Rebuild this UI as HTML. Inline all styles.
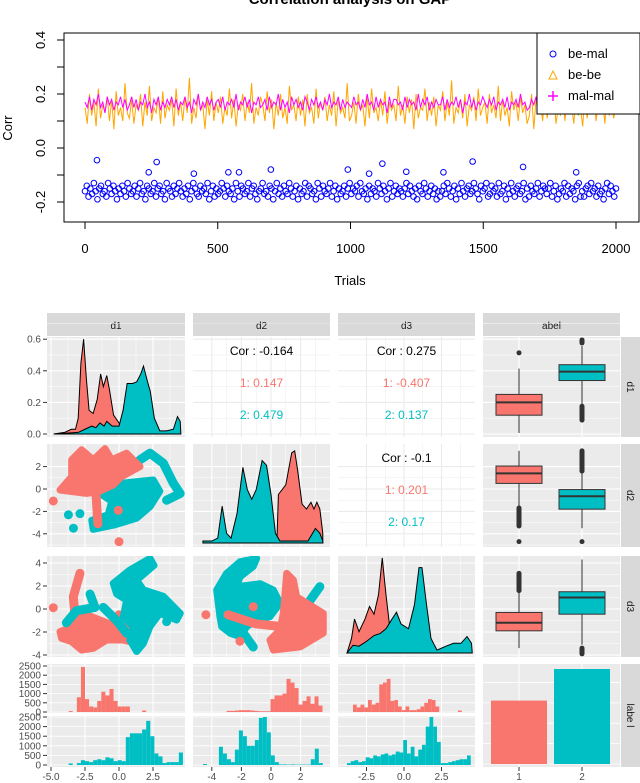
<!DOCTYPE html>
<html><head><meta charset="utf-8"><style>
html,body{margin:0;padding:0;background:#fff;}
svg{display:block;font-family:"Liberation Sans",sans-serif;}
</style></head><body>
<svg id="fig" width="640" height="783" viewBox="0 0 640 783" xmlns="http://www.w3.org/2000/svg"></svg>
<script>
// ---------- TOP CHART DATA ----------
const topXTicks=[0,500,1000,1500,2000];
const topYTicks=[-0.2,0.0,0.2,0.4];
const beBe=[.15,.09,.20,.12,.17,.08,.22,.11,.16,.13,.19,.10,.18,.07,.21,.12,.15,.10,.24,.13,
.11,.18,.09,.16,.14,.20,.08,.17,.12,.23,.10,.15,.13,.19,.09,.21,.11,.16,.14,.18,
.08,.22,.12,.17,.10,.19,.13,.26,.09,.15,.11,.20,.14,.16,.07,.18,.12,.21,.10,.17,
.13,.19,.09,.15,.12,.22,.11,.18,.08,.16,.14,.20,.10,.17,.13,.24,.09,.15,.12,.19,
.16,.10,.21,.13,.18,.07,.17,.12,.20,.11,.15,.09,.23,.14,.16,.10,.19,.12,.18,.08,
.20,.13,.15,.09,.22,.11,.17,.14,.19,.10,.16,.12,.21,.08,.18,.13,.15,.11,.24,.10,
.12,.17,.09,.20,.14,.16,.08,.19,.11,.22,.13,.15,.10,.18,.12,.21,.09,.17,.14,.16,
.10,.23,.12,.16,.09,.19,.13,.18,.07,.20,.11,.15,.14,.22,.10,.17,.12,.19,.08,.16,
.14,.21,.10,.17,.12,.25,.09,.15,.13,.18,.11,.20,.08,.16,.14,.19,.10,.22,.12,.15,
.17,.09,.20,.13,.16,.11,.23,.10,.18,.12,.15,.08,.21,.14,.17,.10,.19,.13,.16,.09,
.12,.20,.07,.18,.13,.16,.10,.22,.11,.17,.14,.19,.09,.15,.12,.21,.10,.18,.13,.16,
.09,.19,.12,.15,.08,.20,.11,.17,.13,.22,.10,.16,.14,.18,.09,.21,.12,.15,.11,.17];
const malMal=[.17,.15,.19,.14,.18,.16,.20,.15,.17,.13,.19,.16,.18,.14,.17,.16,.19,.15,.18,.14,
.16,.19,.15,.18,.14,.17,.16,.20,.15,.17,.13,.18,.16,.19,.14,.17,.15,.18,.16,.19,
.15,.18,.14,.17,.16,.19,.15,.17,.13,.18,.16,.20,.14,.17,.15,.19,.16,.18,.14,.17,
.18,.15,.19,.14,.17,.16,.18,.15,.20,.14,.17,.16,.19,.15,.18,.13,.17,.16,.19,.15,
.16,.18,.14,.19,.15,.17,.16,.20,.14,.18,.15,.17,.13,.19,.16,.18,.15,.17,.14,.19,
.17,.14,.18,.16,.19,.15,.17,.14,.18,.16,.20,.15,.17,.16,.19,.14,.18,.15,.17,.16,
.15,.19,.16,.17,.14,.18,.15,.20,.16,.17,.14,.19,.15,.18,.16,.17,.13,.19,.15,.18,
.18,.16,.17,.14,.19,.15,.18,.16,.17,.14,.20,.15,.18,.16,.19,.14,.17,.15,.18,.16,
.16,.19,.14,.18,.15,.17,.16,.19,.15,.18,.13,.17,.16,.20,.15,.18,.14,.17,.16,.19,
.17,.15,.18,.16,.19,.14,.17,.16,.18,.15,.19,.14,.17,.16,.18,.15,.20,.16,.17,.14,
.15,.18,.16,.19,.14,.17,.15,.18,.16,.20,.15,.17,.14,.19,.16,.18,.15,.17,.16,.19,
.18,.14,.17,.16,.19,.15,.18,.16,.17,.14,.19,.15,.18,.16,.17,.15,.19,.14,.18,.16];
const beMal=[-0.16,-0.14,-0.18,-0.15,-0.17,-0.13,-0.16,-0.19,-0.15,-0.14,-0.17,-0.16,-0.18,-0.13,-0.15,-0.17,-0.14,-0.16,-0.19,-0.15,
-0.17,-0.14,-0.16,-0.18,-0.13,-0.15,-0.17,-0.16,-0.14,-0.18,-0.15,-0.13,-0.17,-0.16,-0.19,-0.14,-0.15,-0.17,-0.16,-0.13,
-0.18,-0.15,-0.14,-0.17,-0.16,-0.19,-0.13,-0.15,-0.16,-0.18,-0.14,-0.17,-0.15,-0.13,-0.16,-0.18,-0.15,-0.17,-0.14,-0.19,
-0.16,-0.13,-0.15,-0.17,-0.18,-0.14,-0.16,-0.15,-0.17,-0.13,-0.19,-0.16,-0.14,-0.18,-0.15,-0.17,-0.16,-0.13,-0.15,-0.18,
-0.14,-0.16,-0.17,-0.15,-0.19,-0.13,-0.16,-0.18,-0.14,-0.15,-0.17,-0.16,-0.13,-0.18,-0.15,-0.14,-0.17,-0.19,-0.16,-0.15,
-0.13,-0.17,-0.16,-0.18,-0.14,-0.15,-0.19,-0.16,-0.13,-0.17,-0.15,-0.18,-0.14,-0.16,-0.17,-0.13,-0.15,-0.18,-0.16,-0.14,
-0.19,-0.15,-0.17,-0.16,-0.13,-0.18,-0.14,-0.15,-0.17,-0.16,-0.19,-0.13,-0.15,-0.18,-0.14,-0.16,-0.17,-0.15,-0.13,-0.18,
-0.16,-0.14,-0.19,-0.15,-0.17,-0.16,-0.14,-0.18,-0.15,-0.13,-0.17,-0.15,-0.16,-0.14,-0.18,-0.13,-0.16,-0.17,-0.15,-0.19,
-0.14,-0.17,-0.15,-0.16,-0.18,-0.13,-0.15,-0.17,-0.14,-0.16,-0.19,-0.15,-0.13,-0.18,-0.16,-0.14,-0.17,-0.15,-0.16,-0.18,
-0.15,-0.13,-0.17,-0.14,-0.16,-0.18,-0.15,-0.19,-0.14,-0.16,-0.17,-0.13,-0.15,-0.18,-0.16,-0.14,-0.17,-0.15,-0.19,-0.16,
-0.18,-0.16,-0.14,-0.17,-0.13,-0.15,-0.18,-0.16,-0.14,-0.19,-0.15,-0.17,-0.13,-0.16,-0.18,-0.15,-0.14,-0.17,-0.16,-0.13,
-0.15,-0.17,-0.19,-0.14,-0.16,-0.15,-0.13,-0.18,-0.17,-0.14,-0.16,-0.15,-0.18,-0.13,-0.17,-0.16,-0.14,-0.19,-0.15,-0.17,
-0.13,-0.16,-0.18,-0.15,-0.14,-0.17,-0.16,-0.13,-0.19,-0.15,-0.18,-0.14,-0.16,-0.17,-0.15,-0.13,-0.18,-0.16,-0.14,-0.15,
-0.17,-0.15,-0.13,-0.18,-0.16,-0.14,-0.19,-0.17,-0.15,-0.16,-0.13,-0.18,-0.14,-0.17,-0.15,-0.16,-0.19,-0.14,-0.13,-0.18,
-0.16,-0.18,-0.15,-0.14,-0.17,-0.13,-0.16,-0.15,-0.18,-0.14,-0.17,-0.16,-0.19,-0.15,-0.13,-0.17,-0.14,-0.16,-0.18,-0.15];
const beMalOutT=[45,270,1120,1460,1650,700,990,240,1850,1210,1070,540,580,410,1350];
const beMalOutV=[-0.045,-0.052,-0.058,-0.05,-0.07,-0.08,-0.08,-0.09,-0.09,-0.088,-0.095,-0.09,-0.09,-0.095,-0.09];

// ---------- PAIRS DATA ----------
const colXTicks=[[-5,-2.5,0,2.5],[-4,-2,0,2],[-2.5,0,2.5]];
const colXLabels=[["-5.0","-2.5","0.0","2.5"],["-4","-2","0","2"],["-2.5","0.0","2.5"]];
const row0YTicks=[0,0.2,0.4,0.6];
const row1YTicks=[2,0,-2,-4];
const row2YTicks=[4,2,0,-2,-4];
const histYTicks=[0,500,1000,1500,2000,2500];
const densD1Red=[[-4.8,0],[-4,0.01],[-3.5,0.03],[-3.2,0.03],[-3,0.1],[-2.8,0.45],[-2.6,0.6],[-2.4,0.35],[-2.2,0.15],[-1.9,0.13],[-1.6,0.22],[-1.35,0.38],[-1.15,0.3],[-0.9,0.37],[-0.7,0.28],[-0.4,0.12],[0,0.07],[0.5,0.03],[1,0.01],[1.5,0]];
const densD1Teal=[[-4.8,0],[-3,0.01],[-2.5,0.03],[-2,0.05],[-1.7,0.04],[-1.4,0.07],[-1.1,0.05],[-0.9,0.08],[-0.5,0.05],[0,0.05],[0.3,0.15],[0.6,0.32],[1,0.32],[1.3,0.33],[1.6,0.38],[1.8,0.43],[2.1,0.33],[2.3,0.27],[2.6,0.1],[3,0.02],[3.5,0.02],[4,0.03],[4.3,0.11],[4.5,0.08],[4.55,0]];
const densD2Red=[[-4.6,0],[0,0],[0.4,0.02],[0.5,0.5],[1.0,0.6],[1.4,0.93],[1.6,0.95],[1.8,0.75],[2.1,0.4],[2.4,0.35],[2.7,0.42],[2.9,0.35],[3.1,0.42],[3.3,0.35],[3.5,0.1],[3.5,0]];
const densD2Teal=[[-4.6,0],[-4.6,0.02],[-4,0.02],[-3.6,0.05],[-3.3,0.38],[-3.0,0.1],[-2.7,0.05],[-2.3,0.3],[-1.9,0.78],[-1.6,0.55],[-1.3,0.45],[-1.0,0.55],[-0.6,0.85],[-0.3,0.8],[0,0.5],[0.3,0.1],[0.6,0.02],[2.5,0.02],[3.0,0.15],[3.3,0.1],[3.5,0.02],[3.5,0]];
const densD3Red=[[-3.8,0],[-3.5,0.15],[-3.3,0.35],[-3.0,0.22],[-2.6,0.35],[-2.3,0.48],[-2.0,0.4],[-1.7,0.6],[-1.45,0.98],[-1.2,0.6],[-0.9,0.2],[-0.5,0.25],[0,0.12],[0.4,0.05],[1,0.05],[2,0]];
const densD3Teal=[[-3.8,0],[-3.4,0.08],[-3,0.07],[-2.5,0.12],[-2,0.18],[-1.6,0.2],[-1.2,0.25],[-0.8,0.35],[-0.5,0.42],[-0.2,0.3],[0.3,0.25],[0.7,0.5],[1.0,0.88],[1.2,0.88],[1.5,0.5],[1.8,0.15],[2.2,0.03],[2.8,0.07],[3.3,0.1],[3.8,0.1],[4.2,0.17],[4.5,0.1],[4.55,0]];
const corLabels=[["Cor : -0.164","1: 0.147","2: 0.479"],["Cor : 0.275","1: -0.407","2: 0.137"],["Cor : -0.1","1: 0.201","2: 0.17"]];
// scatter clusters: polygons (filled regions), strokes and dots, in data units
const scD1D2TealPoly=[[[-2.87,-0.09],[0.07,0.5],[2.52,0.8],[3.0,-0.2],[2.28,-1.58],[1.3,-2.6],[-0.3,-3.2],[-1.9,-3.6],[-2.0,-2.8],[-0.8,-2.3],[-0.53,-1.1],[-1.4,-0.4]]];
const scD1D2TealLine=[[[1.54,2.6],[2.28,3.2],[3.26,2.3],[4.0,0.5],[4.5,-0.4],[3.5,-1.0]],[[-3.72,-2.3]],[[-3.35,-3.5]],[[-2.87,-2.2]]];
const scD1D2RedPoly=[[[-4.34,-0.09],[-3.48,1.1],[-3.48,2.6],[-2.75,3.5],[-1.89,2.6],[-1.03,3.6],[-0.54,2.6],[0.56,3.2],[1.54,2.0],[0.19,1.1],[-0.43,0.36],[-1.5,-0.24],[-2.4,-0.39]]];
const scD1D2RedLine=[[[-1.7,-0.3],[-1.55,-3.1]],[[-0.05,-1.9]],[[-4.83,-1.07]],[[0.0,-4.7]]];
const scD1D3RedPoly=[[[-4.34,-1.97],[-3.36,-1.53],[-2.62,-0.38],[-1.4,-0.96],[-0.42,-1.4],[0.56,-1.53],[1.79,-2.4],[1.54,-3.04],[0.32,-2.7],[-0.91,-2.7],[-1.89,-3.42],[-2.75,-3.57],[-3.48,-2.84],[-4.22,-2.55]]];
const scD1D3RedLine=[[[-2.87,3.1],[-3.36,1.07],[-3.25,-0.38]],[[-4.83,0.11]],[[0.0,-0.5]]];
const scD1D3TealPoly=[[[-0.42,2.23],[0.8,3.39],[2.28,4.4],[2.57,3.8],[1.3,2.5],[1.79,1.67],[3.26,1.1],[4.5,-0.38],[4.24,-0.96],[3.0,-0.38],[2.28,-1.53],[1.79,-3.0],[1.3,-3.7],[0.8,-2.7],[1.05,-1.53],[0.32,-0.67],[0.56,0.77],[-0.17,1.3]]];
const scD1D3TealLine=[[[-2.13,1.3],[-1.77,0.14],[-3.13,-0.15],[-3.87,-1.2]],[[-1.16,0.14],[-0.17,-1.0],[0.56,-2.1],[1.54,-2.4]],[[3.5,-1.1]]];
const scD2D3TealPoly=[[[-3.67,1.65],[-3.0,3.1],[-2.1,4.1],[-0.97,4.4],[-1.2,3.7],[-2.1,2.8],[-2.3,1.94],[-0.74,2.2],[0.16,1.65],[0.61,0.5],[-0.07,-0.67],[-0.97,-0.96],[-1.64,-1.53],[-2.1,-2.4],[-2.77,-2.1],[-3.33,-1.53],[-3.45,-0.67]]];
const scD2D3TealLine=[[[-1.87,-2.1],[-1.2,-3.3]],[[2.18,-0.09],[3.3,1.94]]];
const scD2D3RedPoly=[[[1.06,3.1],[1.51,2.52],[1.73,1.07],[3.53,-0.38],[3.53,-2.1],[1.96,-3.3],[0.16,-3.57],[-0.07,-2.7],[0.61,-1.82],[0.83,-0.38],[0.95,1.36]]];
const scD2D3RedLine=[[[-2.9,-0.5],[-1.0,-1.3],[0.5,-1.5]],[[-2.1,-2.8]],[[-4.4,-0.5]],[[-1.2,0.2]]];
// boxplots: [min, q1, med, q3, max], outlier ranges [lo,hi]
const boxD1=[[-4.8,-3,-1.7,-0.9,1.7],[-2.0,0.5,1.4,2.1,4.0]];
const boxD1Out=[[[3.3,3.3]],[[4.3,4.6],[-3.5,-2.1]]];
const boxD2=[[-1.6,0.5,1.4,2.05,3.4],[-3.5,-1.8,-0.65,-0.05,1.4]];
const boxD2Out=[[[-3.3,-1.7],[-4.7,-4.7]],[[1.6,3.4],[-4.7,-4.7]]];
const boxD3=[[-3.4,-1.9,-1.2,-0.3,1.4],[-3.1,-0.45,1.0,1.5,4.3]];
const boxD3Out=[[[1.6,3.1]],[[-3.9,-3.4]]];
const labelCats=["1","2"];
const labelCounts=[1555,2330];
const histD1Red=[50,0,800,2450,700,300,250,600,1100,900,1250,600,300,300,300,0,0,0,80];
const histD1Teal=[80,0,100,250,200,150,250,300,250,400,350,200,250,200,1450,1650,1650,1650,1850,2300,1500,600,450,100,150,150,150,650];
const histD2Red=[60,60,80,100,100,100,80,60,40,40,40,700,900,900,1000,1800,1600,1300,400,600,850,450,850,350];
const histD2Teal=[50,0,0,0,950,600,300,150,800,1800,1500,1000,1000,1300,2450,2500,1700,500,150,30,30,20,30,20,20,20,20,300,850,100];
const histD3Red=[400,250,400,250,650,400,500,1500,1600,1800,600,650,300,100,300,100,100,150,300,500,700,650,300,0,0,0,0,0,80];
const histD3Teal=[100,200,250,150,200,400,350,500,450,550,600,500,550,700,650,1300,600,950,450,800,1050,2000,2500,2000,1200,100,100,150,200,250,300,300,500];
const histStart=[[-3.7,0.3],[-3.7,0.3],[-3.0,0.27],[-4.6,0.27],[-3.4,0.25],[-3.8,0.25]];

// ---------- DRAWING ----------
const NS="http://www.w3.org/2000/svg";
const svg=document.getElementById('fig');
function mk(tag,attrs,parent){const e=document.createElementNS(NS,tag);for(const k in attrs)e.setAttribute(k,attrs[k]);(parent||svg).appendChild(e);return e;}
function txt(s,attrs,parent){const e=mk('text',attrs,parent);e.textContent=s;return e;}
const RED="#F8766D",TEAL="#00BFC4";

// top chart
const xT=t=>85+t*531/2000, yT=v=>148-v*270;
let g=mk('g',{});


let t=txt('Correlation analysis on GAP',{x:350,y:4,'text-anchor':'middle','font-size':15,'font-weight':'bold'},g);


let pts=beBe.map((v,i)=>xT(i*2000/(beBe.length-1))+','+yT(v)).join(' ');
let l=mk('polyline',{points:pts,fill:'none',stroke:'#FFA500','stroke-width':1},g);


pts=malMal.map((v,i)=>xT(i*2000/(malMal.length-1))+','+yT(v)).join(' ');
l=mk('polyline',{points:pts,fill:'none',stroke:'#FF00FF','stroke-width':1},g);


beMal.forEach((v,i)=>{const c=mk('circle',{cx:xT(i*2000/(beMal.length-1)),cy:yT(v),r:2.8,fill:'none',stroke:'#0000FF','stroke-width':1},g);

});
beMalOutT.forEach((tt,i)=>{const c=mk('circle',{cx:xT(tt),cy:yT(beMalOutV[i]),r:2.8,fill:'none',stroke:'#0000FF','stroke-width':1},g);

});
let r=mk('rect',{x:64,y:33,width:575,height:189,fill:'none',stroke:'#000','stroke-width':1},g);


for(let v=-0.2;v<=0.401;v+=0.1){mk('line',{x1:57,x2:64,y1:yT(v),y2:yT(v),stroke:'#000'},g);}
topYTicks.forEach(v=>{const e=txt(v.toFixed(1),{x:0,y:0,'text-anchor':'middle','font-size':13,transform:`translate(45,${yT(v)}) rotate(-90)`},g);

});
topXTicks.forEach(v=>{mk('line',{x1:xT(v),x2:xT(v),y1:222,y2:229,stroke:'#000'},g);
const e=txt(String(v),{x:xT(v),y:253,'text-anchor':'middle','font-size':13},g);

});
t=txt('Corr',{x:0,y:0,'text-anchor':'middle','font-size':13,transform:'translate(12,128) rotate(-90)'},g);


t=txt('Trials',{x:350,y:285,'text-anchor':'middle','font-size':13},g);


let lg=mk('g',{},g);


mk('rect',{x:537,y:33,width:103,height:81,fill:'#fff',stroke:'#000'},lg);
mk('circle',{cx:553,cy:54,r:3,fill:'none',stroke:'#0000FF'},lg);
mk('polygon',{points:'549,79 557,79 553,71',fill:'none',stroke:'#FFA500'},lg);
mk('path',{d:'M548,96 h10 M553,91 v10',stroke:'#FF00FF','stroke-width':1.5},lg);
[['be-mal',58],['be-be',79],['mal-mal',100]].forEach(a=>{const e=txt(a[0],{x:568,y:a[1],'font-size':13},lg);

});

// ---------- pairs ----------
const cols=[[47,185],[193,330],[338,475],[483,620]];
const rows=[[337,437],[444,547],[556,657],[664,767]];
const xs=[v=>119+v*13.6, v=>271+v*14.8, v=>404+v*15];
const yD1=v=>434-(v+4.9)*9.9, yD2=v=>489-11.2*v, yD3=v=>609-11.5*v;
const rowGridPx=[row0YTicks.map(v=>434-158*v),row1YTicks.map(yD2),row2YTicks.map(yD3)];
let pg=mk('g',{});


let defs=mk('defs',{},pg);
for(let i=0;i<4;i++)for(let j=0;j<4;j++){const cp=mk('clipPath',{id:`c${i}${j}`},defs);mk('rect',{x:cols[j][0],y:rows[i][0],width:cols[j][1]-cols[j][0],height:rows[i][1]-rows[i][0]},cp);}
const stripNames=["d1","d2","d3","abel"];
cols.forEach((c,j)=>{mk('rect',{x:c[0],y:313,width:c[1]-c[0],height:23,fill:'#D9D9D9'},pg);
const e=txt(stripNames[j],{x:(c[0]+c[1])/2,y:329,'text-anchor':'middle','font-size':10,fill:'#1a1a1a'},pg);

});
const rStrip=["d1","d2","d3","labe l"];
rows.forEach((rr,i)=>{mk('rect',{x:621,y:rr[0],width:19,height:rr[1]-rr[0],fill:'#D9D9D9'},pg);
const e=txt(rStrip[i],{x:0,y:0,'text-anchor':'middle','font-size':10,fill:'#1a1a1a',transform:`translate(627,${(rr[0]+rr[1])/2}) rotate(90)`},pg);

});

function panelBg(i,j,white){const c=cols[j],rr=rows[i];
const p=mk('g',{},pg);


mk('rect',{x:c[0],y:rr[0],width:c[1]-c[0],height:rr[1]-rr[0],fill:white?'#fff':'#EBEBEB'},p);
const gc=white?'#EBEBEB':'#fff';
let xg=j<3?colXTicks[j].map(xs[j]):[519,582];
xg.forEach(x=>mk('line',{x1:x,x2:x,y1:rr[0],y2:rr[1],stroke:gc,'stroke-width':1.1},p));
if(j<3){const step=xg[1]-xg[0];xg.forEach(x=>{mk('line',{x1:x+step/2,x2:x+step/2,y1:rr[0],y2:rr[1],stroke:gc,'stroke-width':0.5},p);});}
if(i<3){const yg=rowGridPx[i];yg.forEach(y=>mk('line',{x1:c[0],x2:c[1],y1:y,y2:y,stroke:gc,'stroke-width':1.1},p));
const st=yg[1]-yg[0];yg.forEach(y=>mk('line',{x1:c[0],x2:c[1],y1:y+st/2,y2:y+st/2,stroke:gc,'stroke-width':0.5},p));}
return p;}

function dens(p,arr,xf,yf,color,i,j){const d='M'+arr.map(q=>xf(q[0])+','+yf(q[1])).join(' L')+' Z';
const e=mk('path',{d,fill:color,stroke:'#000','stroke-width':1,'clip-path':`url(#c${i}${j})`},p);

}
let p=panelBg(0,0);
dens(p,densD1Red,xs[0],v=>434-158*v,RED,0,0);
dens(p,densD1Teal,xs[0],v=>434-158*v,TEAL,0,0);
p=panelBg(1,1);
dens(p,densD2Red,xs[1],v=>543-97*v,RED,1,1);
dens(p,densD2Teal,xs[1],v=>543-97*v,TEAL,1,1);
p=panelBg(2,2);
dens(p,densD3Red,xs[2],v=>653-97*v,RED,2,2);
dens(p,densD3Teal,xs[2],v=>653-97*v,TEAL,2,2);

[[0,1],[0,2],[1,2]].forEach((ij,k)=>{const [i,j]=ij;const q=panelBg(i,j,true);const cx=(cols[j][0]+cols[j][1])/2;const y0=rows[i][0];
const lab=corLabels[k];const cls=['#000',RED,TEAL];
lab.forEach((s,m)=>{const e=txt(s,{x:cx,y:y0+18+m*32,'text-anchor':'middle','font-size':12,fill:cls[m]},q);

});});

function scatter(p,polys,lines,xf,yf,color,i,j){
polys.forEach(s=>{const e=mk('polygon',{points:s.map(q=>xf(q[0])+','+yf(q[1])).join(' '),fill:color,stroke:color,'stroke-width':7,'stroke-linejoin':'round','clip-path':`url(#c${i}${j})`},p);

});
lines.forEach(s=>{let e;
if(s.length===1){e=mk('circle',{cx:xf(s[0][0]),cy:yf(s[0][1]),r:4.5,fill:color,'clip-path':`url(#c${i}${j})`},p);}
else{e=mk('polyline',{points:s.map(q=>xf(q[0])+','+yf(q[1])).join(' '),fill:'none',stroke:color,'stroke-width':9,'stroke-linecap':'round','stroke-linejoin':'round','clip-path':`url(#c${i}${j})`},p);}

});}
p=panelBg(1,0);scatter(p,scD1D2TealPoly,scD1D2TealLine,xs[0],yD2,TEAL,1,0);scatter(p,scD1D2RedPoly,scD1D2RedLine,xs[0],yD2,RED,1,0);
p=panelBg(2,0);scatter(p,scD1D3RedPoly,scD1D3RedLine,xs[0],yD3,RED,2,0);scatter(p,scD1D3TealPoly,scD1D3TealLine,xs[0],yD3,TEAL,2,0);
p=panelBg(2,1);scatter(p,scD2D3TealPoly,scD2D3TealLine,xs[1],yD3,TEAL,2,1);scatter(p,scD2D3RedPoly,scD2D3RedLine,xs[1],yD3,RED,2,1);

const catX=[519,582];
function boxes(p,stats,outs,yf){stats.forEach((s,k)=>{const x=catX[k],col=k?TEAL:RED;
const g2=mk('g',{},p);


mk('line',{x1:x,x2:x,y1:yf(s[0]),y2:yf(s[4]),stroke:'#333','stroke-width':1},g2);
mk('rect',{x:x-23,y:yf(s[3]),width:46,height:yf(s[1])-yf(s[3]),fill:col,stroke:'#333','stroke-width':1},g2);
mk('line',{x1:x-23,x2:x+23,y1:yf(s[2]),y2:yf(s[2]),stroke:'#333','stroke-width':2},g2);
outs[k].forEach(o=>{const e=mk('line',{x1:x,x2:x,y1:yf(o[0]),y2:yf(o[1]),stroke:'#333','stroke-width':5,'stroke-linecap':'round'},g2);

});});}
p=panelBg(0,3);boxes(p,boxD1,boxD1Out,yD1);
p=panelBg(1,3);boxes(p,boxD2,boxD2Out,yD2);
p=panelBg(2,3);boxes(p,boxD3,boxD3Out,yD3);

const upY=v=>712-v*46/2500, loY=v=>765-v*48/2500;
function hist(p,counts,start,xf,yf,color){counts.forEach((cnt,k)=>{if(cnt<=0)return;const x0=xf(start[0]+k*start[1]),x1=xf(start[0]+(k+1)*start[1]);
const e=mk('rect',{x:x0,y:yf(cnt),width:x1-x0,height:yf(0)-yf(cnt),fill:color},p);

});}
const histSets=[[histD1Red,histD1Teal],[histD2Red,histD2Teal],[histD3Red,histD3Teal]];
for(let j=0;j<3;j++){const c=cols[j];
const q=mk('g',{},pg);


[[664,713,upY],[716,767,loY]].forEach((b,h)=>{mk('rect',{x:c[0],y:b[0],width:c[1]-c[0],height:b[1]-b[0],fill:'#EBEBEB'},q);
colXTicks[j].forEach(v=>mk('line',{x1:xs[j](v),x2:xs[j](v),y1:b[0],y2:b[1],stroke:'#fff'},q));
histYTicks.forEach(v=>{const y=b[2](v);if(y>=b[0])mk('line',{x1:c[0],x2:c[1],y1:y,y2:y,stroke:'#fff','stroke-width':0.8},q);});
hist(q,histSets[j][h],histStart[j*2+h],xs[j],b[2],h?TEAL:RED);});}
p=mk('g',{},pg);


mk('rect',{x:483,y:664,width:137,height:103,fill:'#EBEBEB'},p);
const barY=v=>764-v*95/2330;
[0,500,1000,1500,2000].forEach(v=>mk('line',{x1:483,x2:620,y1:barY(v),y2:barY(v),stroke:'#fff','stroke-width':0.8},p));
catX.forEach(x=>mk('line',{x1:x,x2:x,y1:664,y2:767,stroke:'#fff'},p));
labelCounts.forEach((v,k)=>{const e=mk('rect',{x:catX[k]-28,y:barY(v),width:56,height:barY(0)-barY(v),fill:k?TEAL:RED},p);

});

const ax=mk('g',{'font-size':10,fill:'#4d4d4d'},pg);


row0YTicks.forEach(v=>{const y=434-158*v;mk('line',{x1:43,x2:47,y1:y,y2:y,stroke:'#333'},ax);txt(v.toFixed(1),{x:41,y:y+3.5,'text-anchor':'end'},ax);});
row1YTicks.forEach(v=>{const y=yD2(v);mk('line',{x1:43,x2:47,y1:y,y2:y,stroke:'#333'},ax);txt(String(v),{x:41,y:y+3.5,'text-anchor':'end'},ax);});
row2YTicks.forEach(v=>{const y=yD3(v);mk('line',{x1:43,x2:47,y1:y,y2:y,stroke:'#333'},ax);txt(String(v),{x:41,y:y+3.5,'text-anchor':'end'},ax);});
[upY,loY].forEach(f=>histYTicks.forEach(v=>{const y=f(v);mk('line',{x1:43,x2:47,y1:y,y2:y,stroke:'#333'},ax);txt(String(v),{x:41,y:y+3.5,'text-anchor':'end'},ax);}));
for(let j=0;j<3;j++)colXTicks[j].forEach((v,k)=>{const x=xs[j](v);mk('line',{x1:x,x2:x,y1:767,y2:771,stroke:'#333'},ax);txt(colXLabels[j][k],{x,y:780,'text-anchor':'middle'},ax);});
labelCats.forEach((s,k)=>{mk('line',{x1:catX[k],x2:catX[k],y1:767,y2:771,stroke:'#333'},ax);txt(s,{x:catX[k],y:780,'text-anchor':'middle'},ax);});
</script>
</body></html>
